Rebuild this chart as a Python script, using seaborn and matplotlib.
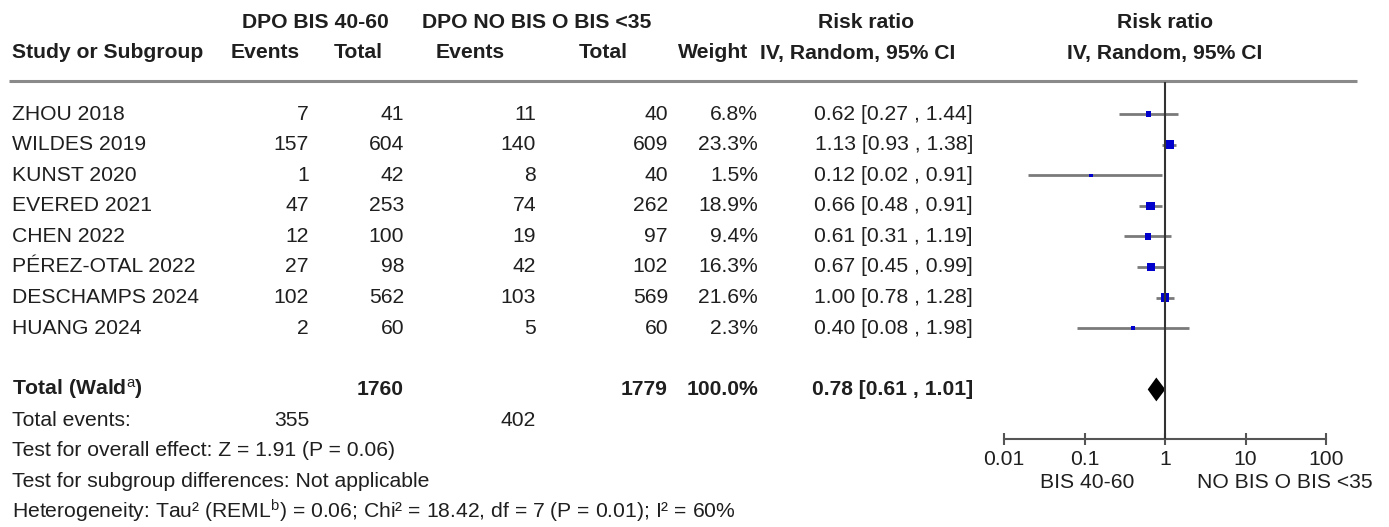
import matplotlib
matplotlib.use("Agg")
import matplotlib.pyplot as plt
from matplotlib.lines import Line2D
import seaborn as sns
import numpy as np

# ---- study data -------------------------------------------------------------
studies = ["ZHOU 2018", "WILDES 2019", "KUNST 2020", "EVERED 2021",
           "CHEN 2022", "PÉREZ-OTAL 2022", "DESCHAMPS 2024", "HUANG 2024"]
events_bis = [7, 157, 1, 47, 12, 27, 102, 2]
total_bis = [41, 604, 42, 253, 100, 98, 562, 60]
events_ctl = [11, 140, 8, 74, 19, 42, 103, 5]
total_ctl = [40, 609, 40, 262, 97, 102, 569, 60]
weights = [6.8, 23.3, 1.5, 18.9, 9.4, 16.3, 21.6, 2.3]
rr = [0.62, 1.13, 0.12, 0.66, 0.61, 0.67, 1.00, 0.40]
ci_low = [0.27, 0.93, 0.02, 0.48, 0.31, 0.45, 0.78, 0.08]
ci_high = [1.44, 1.38, 0.91, 0.91, 1.19, 0.99, 1.28, 1.98]

pooled_rr, pooled_low, pooled_high = 0.78, 0.61, 1.01
total_weight = 100.0

axis_ticks = [0.01, 0.1, 1, 10, 100]
axis_ticklabels = ["0.01", "0.1", "1", "10", "100"]
favours_left = "BIS 40-60"
favours_right = "NO BIS O BIS <35"

footer_lines = [
    "Test for overall effect: Z = 1.91 (P = 0.06)",
    "Test for subgroup differences: Not applicable",
    "Heterogeneity: Tau² (REML$^{\\mathrm{b}}$) = 0.06; Chi² = 18.42, df = 7 (P = 0.01); I² = 60%",
]

# ---- style ------------------------------------------------------------------
sns.set_theme(style="white")
plt.rcParams["font.family"] = ["Liberation Sans", "DejaVu Sans"]
plt.rcParams["mathtext.fontset"] = "custom"
plt.rcParams["mathtext.rm"] = "Liberation Sans"
plt.rcParams["mathtext.it"] = "Liberation Sans:italic"
plt.rcParams["mathtext.bf"] = "Liberation Sans:bold"

FS = 15.2
INK = "#1f1f1f"
W, H = 1389, 527

fig = plt.figure(figsize=(W / 100, H / 100), dpi=100)
fig.patch.set_facecolor("white")

# table layer in pixel coordinates
tab = fig.add_axes([0, 0, 1, 1])
tab.set_xlim(0, W)
tab.set_ylim(H, 0)
tab.axis("off")


def row_y(i):
    return 114 + 30.6 * i


def txt(x, y, s, ha="left", bold=False):
    tab.text(x, y, s, ha=ha, va="center", fontsize=FS, color=INK,
             fontweight="bold" if bold else "normal")


# headers
hy1, hy2 = 23, 53
txt(315, hy1, "DPO BIS 40-60", ha="center", bold=True)
txt(537, hy1, "DPO NO BIS O BIS <35", ha="center", bold=True)
txt(866, hy1, "Risk ratio", ha="center", bold=True)
txt(1165, hy1, "Risk ratio", ha="center", bold=True)
txt(12, hy2, "Study or Subgroup", bold=True)
txt(265, hy2, "Events", ha="center", bold=True)
txt(358, hy2, "Total", ha="center", bold=True)
txt(470, hy2, "Events", ha="center", bold=True)
txt(603, hy2, "Total", ha="center", bold=True)
txt(748, hy2, "Weight", ha="right", bold=True)
txt(858, hy2, "IV, Random, 95% CI", ha="center", bold=True)
txt(1165, hy2, "IV, Random, 95% CI", ha="center", bold=True)

tab.add_line(Line2D([9, 1357], [81, 81], color="#8a8a8a", lw=2.2,
                    solid_capstyle="butt"))

# column right edges
c_ev1, c_n1, c_ev2, c_n2, c_w, c_ci = 309, 404, 536, 668, 758, 973

for i, name in enumerate(studies):
    y = row_y(i)
    txt(12, y, name)
    txt(c_ev1, y, f"{events_bis[i]}", ha="right")
    txt(c_n1, y, f"{total_bis[i]}", ha="right")
    txt(c_ev2, y, f"{events_ctl[i]}", ha="right")
    txt(c_n2, y, f"{total_ctl[i]}", ha="right")
    txt(c_w, y, f"{weights[i]:.1f}%", ha="right")
    txt(c_ci, y, f"{rr[i]:.2f} [{ci_low[i]:.2f} , {ci_high[i]:.2f}]", ha="right")

# totals
yt = row_y(9)
txt(12, yt, "Total (Wald$^{\\mathrm{a}}$)", bold=True)
txt(c_n1, yt, f"{sum(total_bis)}", ha="right", bold=True)
txt(c_n2, yt, f"{sum(total_ctl)}", ha="right", bold=True)
txt(c_w, yt, f"{total_weight:.1f}%", ha="right", bold=True)
txt(c_ci, yt, f"{pooled_rr:.2f} [{pooled_low:.2f} , {pooled_high:.2f}]",
    ha="right", bold=True)

ye = row_y(10)
txt(12, ye, "Total events:")
txt(c_ev1, ye, f"{sum(events_bis)}", ha="right")
txt(c_ev2, ye, f"{sum(events_ctl)}", ha="right")

for k, line in enumerate(footer_lines):
    txt(12, row_y(11 + k), line)

# ---- forest panel -----------------------------------------------------------
px_left, px_right, px_top, px_bottom = 1004, 1326, 82, 439
ax = fig.add_axes([px_left / W, 1 - px_bottom / H,
                   (px_right - px_left) / W, (px_bottom - px_top) / H])
ax.patch.set_alpha(0)
ax.set_xscale("log")
ax.set_xlim(axis_ticks[0], axis_ticks[-1])
ax.set_ylim(10.62, -1.05)

rows = np.arange(len(studies))
ax.hlines(rows, ci_low, ci_high, color="#7a7a7a", lw=2.0, zorder=2)
sns.scatterplot(x=rr, y=rows, size=weights, sizes=(3, 44),
                size_norm=(0, max(weights)), marker="s", color="#0000cc",
                edgecolor="none", linewidth=0, legend=False, ax=ax, zorder=3)

ax.fill([pooled_low, pooled_rr, pooled_high, pooled_rr],
        [9, 9 - 0.39, 9, 9 + 0.39], color="black", lw=0, zorder=3)

ax.axvline(1, color="#333333", lw=1.5, zorder=4)

for side in ("left", "right", "top"):
    ax.spines[side].set_visible(False)
ax.spines["bottom"].set_color("#555555")
ax.spines["bottom"].set_linewidth(1.5)
ax.set_yticks([])
ax.set_xticks(axis_ticks)
ax.set_xticklabels(axis_ticklabels)
ax.xaxis.set_minor_locator(matplotlib.ticker.NullLocator())
ax.tick_params(axis="x", bottom=True, direction="inout", length=9, width=1.5,
               color="#555555", pad=3.5, labelsize=FS, labelcolor=INK)
ax.set_xlabel("")
ax.set_ylabel("")

txt(1087, 482, favours_left, ha="center")
txt(1285, 482, favours_right, ha="center")

fig.savefig("out.png", dpi=100)
